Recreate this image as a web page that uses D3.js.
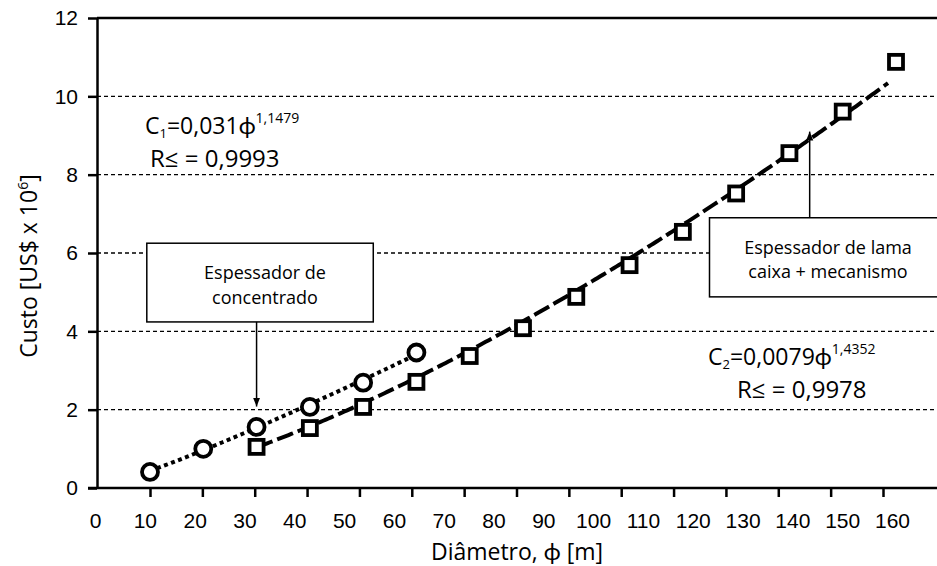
<!DOCTYPE html>
<html>
<head>
<meta charset="utf-8">
<script src="https://cdn.jsdelivr.net/npm/d3@7"></script>
<style>
  body { margin: 0; background: #fff; }
  svg { display: block; font-family: "Open Sans", Lato, sans-serif; }
</style>
</head>
<body>
<svg id="chart" width="937" height="566"></svg>
<script>
// --- data ---
const diamConc = [10, 20, 30, 40, 50, 60];
const costConc = [0.41, 1.0, 1.56, 2.07, 2.69, 3.46];

const diamLama = [30, 40, 50, 60, 70, 80, 90, 100, 110, 120, 130, 140, 150];
const costLama = [1.05, 1.53, 2.07, 2.71, 3.37, 4.08, 4.88, 5.69, 6.54, 7.52, 8.55, 9.61, 10.88];

// regression lines printed on the chart: C = a * phi^b
const fitConc = [0.031, 1.1479];
const fitLama = [0.0079, 1.4352];
const fitConcRange = [10, 60];
const fitLamaRange = [30, 148.5];

const xTickValues = [10, 20, 30, 40, 50, 60, 70, 80, 90, 100, 110, 120, 130, 140, 150];
const xLabelValues = [0, 10, 20, 30, 40, 50, 60, 70, 80, 90, 100, 110, 120, 130, 140, 150, 160];
const yTickValues = [0, 2, 4, 6, 8, 10, 12];

// --- scales ---
const svg = d3.select("#chart");
const plotL = 97, plotR = 937, plotT = 18, plotB = 488;

const x = d3.scaleLinear().domain([10, 150]).range([150, 896]);
const xTick = d3.scaleLinear().domain([10, 150]).range([150, 883]);
const xLabel = d3.scaleLinear().domain([0, 160]).range([95, 892]);
const y = d3.scaleLinear().domain([0, 12]).range([plotB, plotT]);

// gridlines
svg.append("g")
  .selectAll("line")
  .data(yTickValues.filter(d => d > 0))
  .enter().append("line")
  .attr("x1", plotL).attr("x2", plotR)
  .attr("y1", d => y(d)).attr("y2", d => y(d))
  .attr("stroke", "#000")
  .attr("stroke-width", d => d === 12 ? 2.5 : 1.4)
  .attr("stroke-dasharray", d => d === 12 ? null : "4,3");

// axes
const yAxis = svg.append("g")
  .attr("transform", `translate(${plotL},0)`)
  .call(d3.axisLeft(y).tickValues(yTickValues).tickSize(9).tickSizeOuter(0).tickPadding(10));
yAxis.select(".domain").attr("stroke-width", 2.5);
yAxis.selectAll(".tick line").attr("stroke-width", 2.5);
yAxis.selectAll("text").attr("font-size", 21).attr("fill", "#000");

const xAxis = svg.append("g")
  .attr("transform", `translate(0,${plotB})`)
  .call(d3.axisBottom(xTick).tickValues(xTickValues).tickSize(9).tickSizeOuter(0).tickFormat(""));
xAxis.select(".domain").attr("d", `M${plotL - 9},0H${plotR}`).attr("stroke-width", 2.5);
xAxis.selectAll(".tick line").attr("stroke-width", 2.5);

const xLab = svg.append("g")
  .attr("transform", `translate(0,${plotB})`)
  .call(d3.axisBottom(xLabel).tickValues(xLabelValues).tickSize(0).tickPadding(25));
xLab.select(".domain").remove();
xLab.selectAll("text").attr("font-size", 21).attr("fill", "#000");

// axis titles
svg.append("text")
  .attr("x", 517).attr("y", 560)
  .attr("text-anchor", "middle")
  .attr("font-size", 23)
  .text("Diâmetro, ϕ [m]");

const yTitle = svg.append("text")
  .attr("transform", "translate(37,266) rotate(-90)")
  .attr("text-anchor", "middle")
  .attr("font-size", 23);
yTitle.append("tspan").text("Custo [US$ x 10");
yTitle.append("tspan").attr("dy", -9).attr("font-size", 14).text("6");
yTitle.append("tspan").attr("dy", 9).text("]");

// trend lines
function fitPoints(fit, range) {
  return d3.range(range[0], range[1], 0.5).concat([range[1]])
    .map(p => [p, fit[0] * Math.pow(p, fit[1])]);
}
const line = d3.line().x(d => x(d[0])).y(d => y(d[1]));

svg.append("path")
  .attr("d", line(fitPoints(fitConc, fitConcRange)))
  .attr("fill", "none").attr("stroke", "#000")
  .attr("stroke-width", 4).attr("stroke-dasharray", "4,3.5");

svg.append("path")
  .attr("d", line(fitPoints(fitLama, fitLamaRange)))
  .attr("fill", "none").attr("stroke", "#000")
  .attr("stroke-width", 4).attr("stroke-dasharray", "17,5");

// markers
svg.append("g")
  .selectAll("circle")
  .data(diamConc.map((d, i) => [d, costConc[i]]))
  .enter().append("circle")
  .attr("cx", d => x(d[0])).attr("cy", d => y(d[1]))
  .attr("r", 8)
  .attr("fill", "#fff").attr("stroke", "#000").attr("stroke-width", 3.8);

const sq = 14;
svg.append("g")
  .selectAll("rect")
  .data(diamLama.map((d, i) => [d, costLama[i]]))
  .enter().append("rect")
  .attr("x", d => x(d[0]) - sq / 2).attr("y", d => y(d[1]) - sq / 2)
  .attr("width", sq).attr("height", sq)
  .attr("fill", "#fff").attr("stroke", "#000").attr("stroke-width", 3.8);

// arrowhead
svg.append("defs").append("marker")
  .attr("id", "head")
  .attr("viewBox", "0 0 10 10")
  .attr("refX", 10).attr("refY", 5)
  .attr("markerWidth", 9).attr("markerHeight", 9)
  .attr("markerUnits", "userSpaceOnUse")
  .attr("orient", "auto")
  .append("path").attr("d", "M0,1L10,5L0,9Z").attr("fill", "#000");

// annotation boxes (in data units)
function box(x0, x1, y0, y1, lines, cx) {
  svg.append("rect")
    .attr("x", x(x0)).attr("y", y(y1))
    .attr("width", x(x1) - x(x0)).attr("height", y(y0) - y(y1))
    .attr("fill", "#fff").attr("stroke", "#000").attr("stroke-width", 1.5);
  lines.forEach((s, i) => {
    svg.append("text")
      .attr("text-anchor", "middle")
      .attr("font-size", 18)
      .attr("x", cx)
      .attr("y", y(y1) + 36 + i * 24.5)
      .text(s);
  });
}
box(9.4, 51.9, 4.24, 6.25, ["Espessador de", "concentrado"], 265);
box(115, 158, 4.88, 6.9, ["Espessador de lama", "caixa + mecanismo"], 828);

// arrows
svg.append("line")
  .attr("x1", x(30)).attr("x2", x(30))
  .attr("y1", y(4.24)).attr("y2", y(2.08))
  .attr("stroke", "#000").attr("stroke-width", 1.5)
  .attr("marker-end", "url(#head)");
svg.append("line")
  .attr("x1", x(133.8)).attr("x2", x(133.8))
  .attr("y1", y(6.9)).attr("y2", y(9.1))
  .attr("stroke", "#000").attr("stroke-width", 1.5)
  .attr("marker-end", "url(#head)");

// equations
function equation(px, py, sub, coef, exp, r2, rx) {
  const t = svg.append("text").attr("font-size", 23).attr("x", px).attr("y", py);
  t.append("tspan").text("C");
  t.append("tspan").attr("font-size", 13).attr("dy", 4).text(sub);
  t.append("tspan").attr("dy", -4).text("=" + coef + "ϕ");
  t.append("tspan").attr("font-size", 14).attr("dy", -11).text(exp);
  svg.append("text").attr("font-size", 24)
    .attr("x", rx).attr("y", py + 33)
    .text("R≤ = " + r2);
}
equation(145, 134, "1", "0,031", "1,1479", "0,9993", 150);
equation(708, 365, "2", "0,0079", "1,4352", "0,9978", 737);
</script>
</body>
</html>
